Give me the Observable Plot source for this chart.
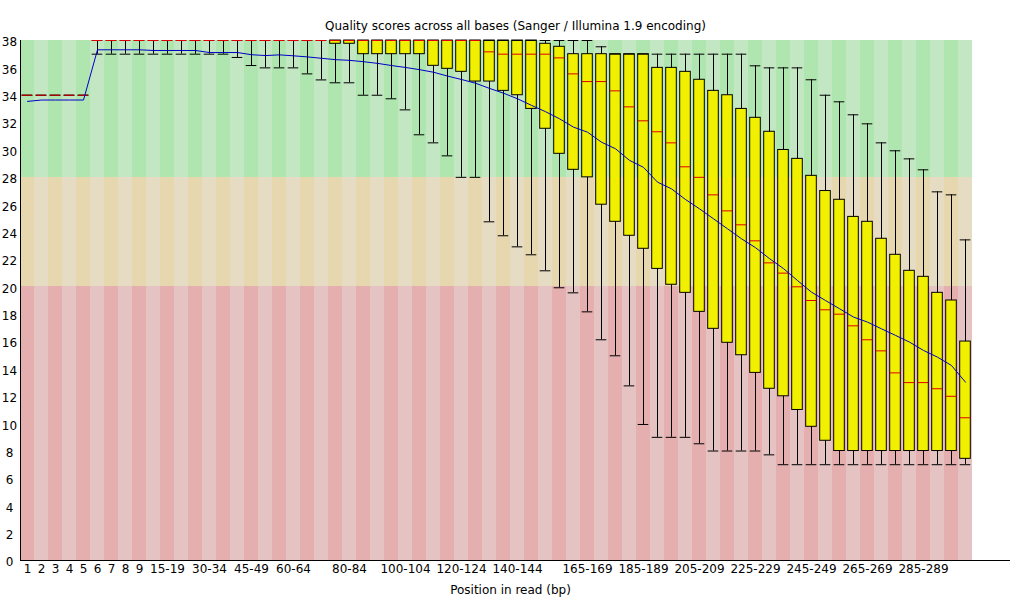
<!DOCTYPE html>
<html><head><meta charset="utf-8">
<script src="https://cdn.jsdelivr.net/npm/d3@7"></script>
<script src="https://cdn.jsdelivr.net/npm/@observablehq/plot@0.6"></script>
<style>body{margin:0;background:#fff}svg{display:block}</style>
</head><body><div id="chart"></div>
<script>
const positions = ["1","2","3","4","5","6","7","8","9","10-14","15-19","20-24","25-29","30-34","35-39","40-44","45-49","50-54","55-59","60-64","65-69","70-74","75-79","80-84","85-89","90-94","95-99","100-104","105-109","110-114","115-119","120-124","125-129","130-134","135-139","140-144","145-149","150-154","155-159","160-164","165-169","170-174","175-179","180-184","185-189","190-194","195-199","200-204","205-209","210-214","215-219","220-224","225-229","230-234","235-239","240-244","245-249","250-254","255-259","260-264","265-269","270-274","275-279","280-284","285-289","290-294","295-299","300-301"];
const tickLabels = ["1","2","3","4","5","6","7","8","9","15-19","30-34","45-49","60-64","80-84","100-104","120-124","140-144","165-169","185-189","205-209","225-229","245-249","265-269","285-289"];
const lower = [34,34,34,34,34,37,37,37,37,37,37,37,37,37,37,36.76,36.17,36,36,36,35.56,35.12,34.91,34.91,34,34,33.74,32.93,31.11,30.52,29.57,28,28,24.75,23.73,22.92,22.34,21.17,19.93,19.56,18.17,16.13,14.96,12.76,9.94,9,9,9,8.53,8,8,8,8,7.72,7,7,7,7,7,7,7,7,7,7,7,7,7,7];
const q1 = [34,34,34,34,34,38,38,38,38,38,38,38,38,38,38,38,38,38,38,38,38,38,37.76,37.76,37,37,37,37,37,36.15,35.93,35.71,35,35,34.32,34,33,31.55,29.72,28.55,28,26,24.75,23.73,22.78,21.31,20.15,19.56,18.17,16.93,15.91,15,13.71,12.55,12,11,9.77,8.75,8,8,8,8,8,8,8,8,8,7.43];
const median = [34,34,34,34,34,38,38,38,38,38,38,38,38,38,38,38,38,38,38,38,38,38,38,38,38,38,38,38,38,38,38,38,38,37.17,37,37,37,37,36.73,35.56,35,35,34.32,33.15,32.13,31.33,30.52,28.77,28,26.72,25.55,24.53,23.36,21.75,21,20,19,18.32,18,17.15,16.13,15.32,13.71,13,13,12.55,12,10.43];
const q3 = [34,34,34,34,34,38,38,38,38,38,38,38,38,38,38,38,38,38,38,38,38,38,38,38,38,38,38,38,38,38,38,38,38,38,38,38,38,37.76,37.54,37,37,37,37,37,37,36,36,35.71,35.13,34.32,34,33,32.35,31.33,30,29.35,28.11,27,26.36,25.11,24.75,23.51,22.34,21.17,20.73,19.56,19,16];
const upper = [34,34,34,34,34,38,38,38,38,38,38,38,38,38,38,38,38,38,38,38,38,38,38,38,38,38,38,38,38,38,38,38,38,38,38,38,38,38,38,38,38,37.54,37,37,37,37,37,37,37,37,37,37,36.15,36,36,36,35.13,34,33.52,32.57,31.91,30.52,29.94,29.35,28.55,26.94,26.72,23.43];
const mean = [33.55,33.65,33.65,33.65,33.65,37.32,37.32,37.32,37.32,37.27,37.27,37.27,37.27,37.12,37.12,37.12,36.96,36.9,36.95,36.88,36.8,36.7,36.6,36.55,36.45,36.33,36.17,36.03,35.87,35.68,35.4,35.15,34.88,34.5,34.15,33.74,33.26,32.8,32.28,31.67,31.3,30.57,30.09,29.24,28.73,27.65,27.16,26.38,25.7,24.97,24.24,23.51,22.86,22.06,21.33,20.46,19.61,19.0,18.4,17.79,17.42,16.93,16.45,15.96,15.35,14.86,14.25,13.03];
const yTicks = [0,2,4,6,8,10,12,14,16,18,20,22,24,26,28,30,32,34,36,38];
const zones = [
  {y1: 0, y2: 20, light: "rgb(230,195,195)", dark: "rgb(230,175,175)"},
  {y1: 20, y2: 28, light: "rgb(230,220,195)", dark: "rgb(230,215,175)"},
  {y1: 28, y2: 38, light: "rgb(195,230,195)", dark: "rgb(175,230,175)"}
];
const title = "Quality scores across all bases (Sanger / Illumina 1.9 encoding)";
const xLabel = "Position in read (bp)";

const rows = positions.map((p, i) => ({pos: p, lower: lower[i], q1: q1[i], median: median[i], q3: q3[i], upper: upper[i], mean: mean[i]}));
const stripes = positions.flatMap((p, i) => zones.map(z => ({pos: p, y1: z.y1, y2: z.y2, fill: i % 2 === 0 ? z.dark : z.light})));
const ins = 1.7;

const chart = Plot.plot({
  width: 1020, height: 600,
  marginLeft: 20, marginRight: 48, marginTop: 40, marginBottom: 40,
  style: {fontFamily: "'DejaVu Sans', sans-serif", fontSize: "12px", background: "white", color: "black"},
  x: {type: "band", domain: positions, padding: 0, axis: null},
  y: {domain: [0, 38], axis: null},
  color: {type: "identity"},
  marks: [
    Plot.barY(stripes, {x: "pos", y1: "y1", y2: "y2", fill: "fill", inset: 0, shapeRendering: "crispEdges"}),
    Plot.ruleX(rows, {x: "pos", y1: "lower", y2: "upper", stroke: "black", strokeWidth: 1}),
    Plot.barY(rows, {x: "pos", y1: "q1", y2: "q3", fill: "rgb(240,240,0)", stroke: "black", strokeWidth: 1, insetLeft: ins, insetRight: ins}),
    Plot.tickY(rows, {x: "pos", y: "lower", stroke: "black", insetLeft: ins, insetRight: ins}),
    Plot.tickY(rows, {x: "pos", y: "upper", stroke: "black", insetLeft: ins, insetRight: ins}),
    Plot.tickY(rows, {x: "pos", y: "median", stroke: "rgb(220,0,0)", insetLeft: ins, insetRight: ins}),
    Plot.line(rows, {x: "pos", y: "mean", stroke: "rgb(0,0,200)", strokeWidth: 1}),
    Plot.axisY(yTicks, {tickSize: 0, tickPadding: 11, textAnchor: "middle", dy: 2, fontSize: 12, label: null}),
    Plot.axisX(tickLabels, {tickSize: 0, tickPadding: 4, fontSize: 12, label: null}),
    Plot.text([title], {frameAnchor: "top", dy: -19, dx: 19, fontSize: 12, fill: "black"}),
    Plot.text([xLabel], {frameAnchor: "bottom", dy: 33, dx: 14, fontSize: 12, fill: "black"})
  ]
});
const svg = d3.select(chart);
svg.append("line").attr("x1", 20).attr("x2", 1010).attr("y1", 560.5).attr("y2", 560.5).attr("stroke", "black");
svg.append("line").attr("x1", 20.5).attr("x2", 20.5).attr("y1", 40).attr("y2", 560).attr("stroke", "black");
document.getElementById("chart").appendChild(chart);
</script>
</body></html>
